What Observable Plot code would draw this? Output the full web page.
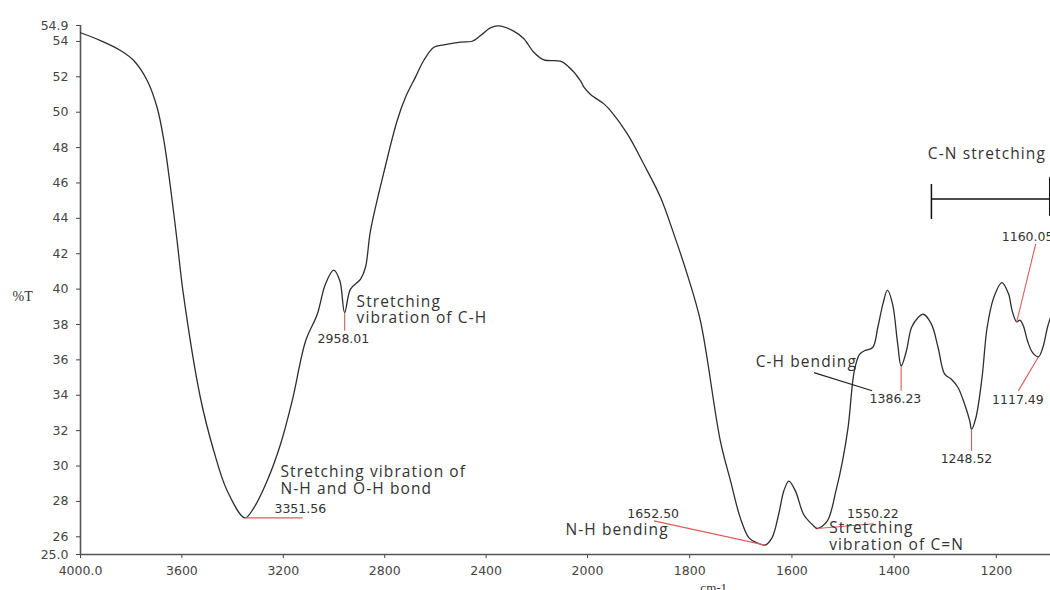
<!DOCTYPE html>
<html>
<head>
<meta charset="utf-8">
<script src="https://cdn.jsdelivr.net/npm/d3@7"></script>
<script src="https://cdn.jsdelivr.net/npm/@observablehq/plot@0.6"></script>
<style>
  html, body { margin: 0; padding: 0; background: #fff; overflow: hidden; }
</style>
</head>
<body>
<div id="chart"></div>
<script>
// FTIR transmittance spectrum (wavenumber in cm-1, %T)
const wavenumber = [
  4000, 3921, 3842, 3790, 3737, 3698, 3671, 3645, 3619, 3595,
  3527, 3474, 3421, 3351.56, 3316, 3264, 3211, 3165, 3112, 3066,
  3034, 3001, 2977, 2958.01, 2935, 2895, 2876, 2856, 2805, 2751,
  2718, 2679, 2646, 2606, 2567, 2501, 2455, 2422, 2383, 2350,
  2291, 2251, 2212, 2172, 2107, 2080, 2028, 2014, 1994, 1968,
  1955, 1922, 1890, 1857, 1831, 1805, 1779, 1740, 1720, 1701,
  1684, 1668, 1652.50, 1639, 1626, 1616, 1606, 1593, 1577, 1560,
  1550.22, 1531, 1514, 1501, 1490, 1478, 1468, 1459, 1442, 1432,
  1422, 1413, 1403, 1393, 1386.23, 1376, 1366, 1353, 1343, 1327,
  1314, 1301, 1288, 1275, 1262, 1252, 1248.52, 1240, 1228, 1218,
  1205, 1189, 1176, 1169, 1160.05, 1154, 1147, 1139, 1129, 1117.49,
  1109, 1100, 1094
];
const transmittance = [
  54.49, 54.05, 53.49, 52.92, 51.79, 50.28, 48.39, 45.75, 42.73, 39.80,
  33.86, 30.85, 28.59, 27.07, 27.64, 29.15, 31.23, 33.68, 37.07, 38.58,
  40.28, 41.07, 40.47, 38.67, 40.00, 40.57, 41.22, 43.30, 46.50, 49.52,
  50.84, 51.97, 52.92, 53.67, 53.81, 53.96, 54.01, 54.33, 54.77, 54.88,
  54.58, 54.15, 53.39, 52.96, 52.88, 52.64, 51.79, 51.41, 51.00, 50.47,
  50.09, 48.77, 47.07, 45.18, 43.11, 40.85, 38.20, 31.41, 29.15, 27.07,
  25.94, 25.66, 25.53, 25.94, 27.26, 28.58, 29.15, 28.58, 27.26, 26.69,
  26.47, 26.88, 28.58, 30.28, 32.20, 35.37, 36.30, 36.50, 36.70, 37.83,
  39.15, 39.94, 39.15, 36.89, 35.66, 36.50, 37.83, 38.40, 38.58, 38.02,
  36.70, 35.19, 34.91, 34.44, 33.49, 32.55, 32.08, 32.73, 35.00, 37.83,
  39.53, 40.37, 39.72, 38.77, 38.15, 38.25, 37.92, 37.07, 36.41, 36.18,
  36.70, 37.83, 38.40
];

// Labelled absorption bands
const peakWavenumbers = [3351.56, 2958.01, 1652.50, 1550.22, 1386.23, 1248.52, 1160.05, 1117.49];

// Axis ticks
const xTicks = [4000, 3600, 3200, 2800, 2400, 2000, 1800, 1600, 1400, 1200];
const yTicks = [25, 26, 28, 30, 32, 34, 36, 38, 40, 42, 44, 46, 48, 50, 52, 54, 54.9];

const spectrum = wavenumber.map((w, i) => ({wavenumber: w, transmittance: transmittance[i]}));
const T = (w) => transmittance[wavenumber.indexOf(w)];
const [p3351, p2958, p1652, p1550, p1386, p1248, p1160, p1117] = peakWavenumbers;

const red = "#e05a5a";
const noteFont = {fontFamily: "'Open Sans', sans-serif", fontSize: 15.5, fill: "#333"};
const numFont = {fontFamily: "'DejaVu Sans', sans-serif", fontSize: 12.5, fill: "#333"};

const link = (x1, y1, x2, y2, stroke = red, strokeWidth = 1.1) =>
  Plot.link([0], {x1: () => x1, y1: () => y1, x2: () => x2, y2: () => y2, stroke, strokeWidth});
const label = (text, x, y, font, opts = {}) =>
  Plot.text([text], {x: () => x, y: () => y, text: d => d, textAnchor: "start", lineAnchor: "bottom", ...font, ...opts});

const chart = Plot.plot({
  width: 1050,
  height: 590,
  marginLeft: 80,
  marginRight: 0,
  marginTop: 25,
  marginBottom: 36,
  style: {fontFamily: "'DejaVu Sans', sans-serif", fontSize: "12.5px", color: "#444", background: "#fff"},
  x: {type: "linear", domain: [4000, 2000, 1094], range: [80, 587, 1050]},
  y: {domain: [25, 54.9]},
  marks: [
    // axes
    Plot.axisX({ticks: xTicks, tickSize: 4, tickPadding: 8, label: null,
      tickFormat: d => d === 4000 ? "4000.0" : String(d)}),
    Plot.axisY({ticks: yTicks, tickSize: 4, tickPadding: 8, label: null,
      tickFormat: d => d === 25 ? "25.0" : String(d)}),
    Plot.ruleY([25], {stroke: "#555", strokeWidth: 1.6}),
    Plot.ruleX([4000], {stroke: "#555", strokeWidth: 1.6}),
    Plot.text(["%T"], {frameAnchor: "left", y: () => 39.57, dx: -68, text: d => d, textAnchor: "start",
      fontFamily: "'Liberation Serif', serif", fontSize: 14, fill: "#333"}),
    Plot.text(["cm-1"], {x: () => 1753, y: () => 25, dy: 37, text: d => d, lineAnchor: "bottom",
      fontFamily: "'Liberation Serif', serif", fontSize: 13, fill: "#333"}),

    // spectrum
    Plot.line(spectrum, {x: "wavenumber", y: "transmittance", curve: "catmull-rom", stroke: "#2e2e2e", strokeWidth: 1.3}),

    // O-H / N-H stretch
    link(p3351, T(p3351), 3124, T(p3351)),
    label(p3351.toFixed(2), 3235, 27.35, numFont),
    label("Stretching vibration of\nN-H and O-H bond", 3211, 28.42, noteFont, {lineHeight: 1.12}),

    // C-H stretch
    link(p2958, T(p2958), p2958, 37.64),
    label(p2958.toFixed(2), 3065, 36.97, numFont),
    label("Stretching\nvibration of C-H", 2911, 38.06, noteFont, {lineHeight: 1.05}),

    // N-H bending
    link(p1652, T(p1652), 1870, 26.9),
    label(p1652.toFixed(2), 1922, 27.05, numFont),
    label("N-H bending", 2087, 26.1, noteFont),

    // C=N stretch
    link(p1550, T(p1550), 1440, 26.74),
    label(p1550.toFixed(2), 1492, 27.05, numFont),
    label("Stretching\nvibration of C=N", 1527, 25.28, noteFont, {lineHeight: 1.07}),

    // C-H bending
    link(p1386, T(p1386), p1386, 34.25),
    label(p1386.toFixed(2), 1448, 33.59, numFont),
    link(1557, 35.28, 1443, 34.25, "#222", 1.1),
    label("C-H bending", 1671, 35.61, noteFont),

    // 1248.52 band
    link(p1248, T(p1248), p1248, 30.85),
    label(p1248.toFixed(2), 1309, 30.19, numFont),

    // C-N stretching region
    link(p1160, T(p1160), 1123, 42.55),
    label(p1160.toFixed(2), 1189.4, 42.74, numFont),
    link(p1117, T(p1117), 1157, 34.25),
    label(p1117.toFixed(2), 1208.4, 33.53, numFont),
    label("C-N stretching", 1334, 47.36, noteFont),
    link(1327, 45.1, 1094, 45.1, "#111", 1.5),
    link(1327, 45.94, 1327, 43.96, "#111", 1.5),
    link(1095.5, 46.32, 1095.5, 44.15, "#111", 1.5)
  ]
});

// wider tracking for the band descriptions
d3.select(chart).selectAll("g[font-family*='Open Sans']").attr("letter-spacing", "1.1px");

document.getElementById("chart").appendChild(chart);
</script>
</body>
</html>
